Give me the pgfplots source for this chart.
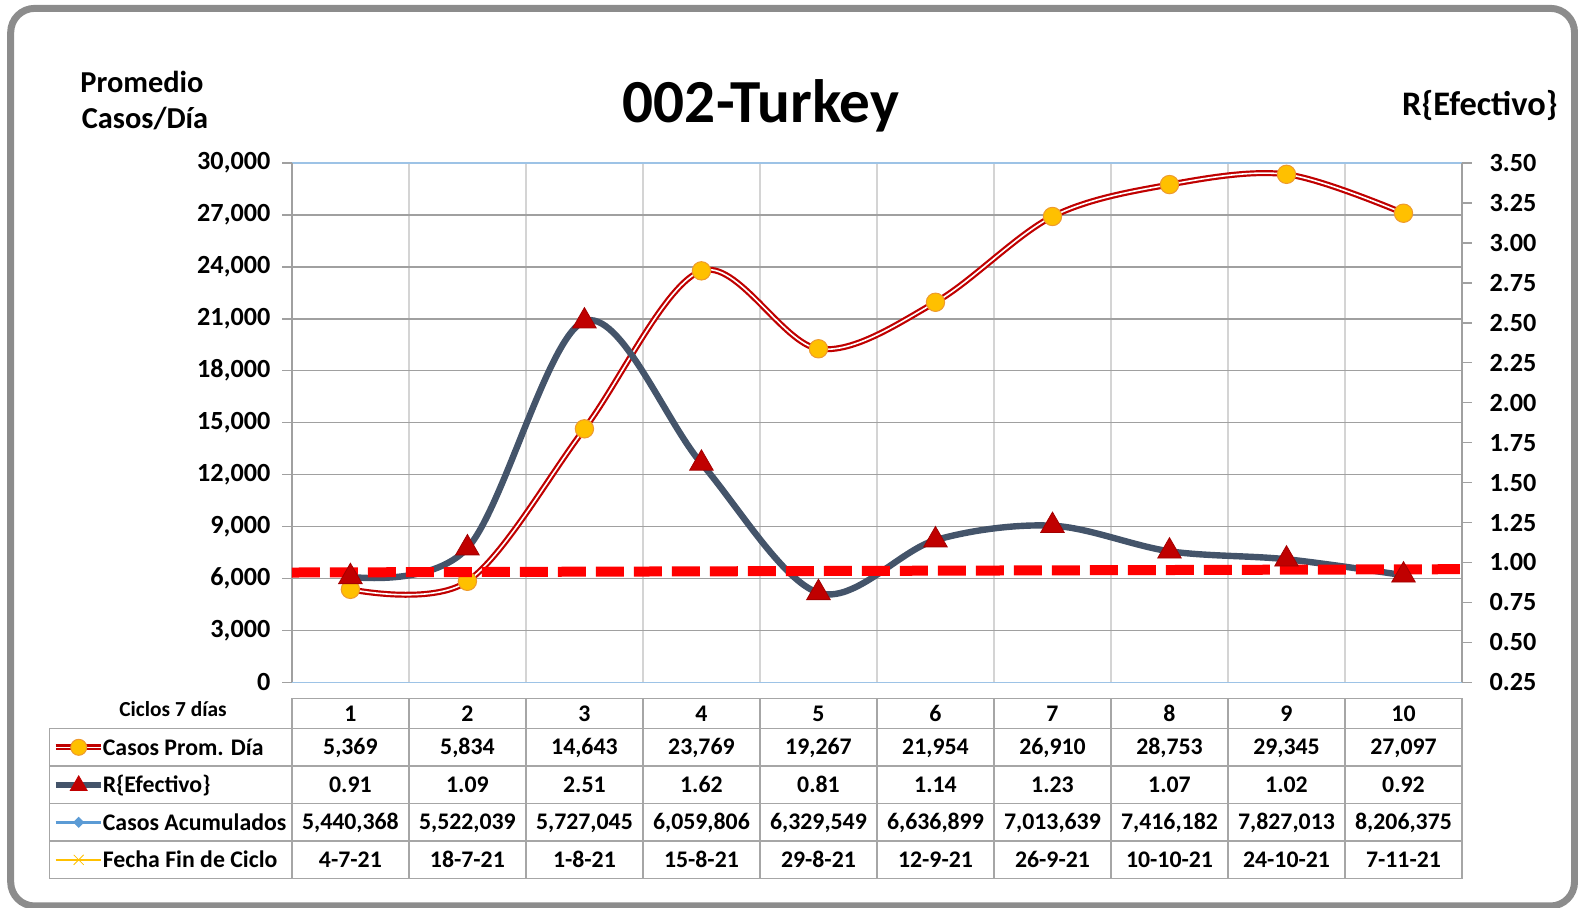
\documentclass[border=0pt]{standalone}
\usepackage{pgfplots}
\pgfplotsset{compat=1.18}
\usepackage{pgfplotstable}
\usepackage{fontspec}
\setmainfont{Carlito}
\definecolor{cdark}{HTML}{C00000}
\definecolor{corange}{HTML}{FFC000}
\definecolor{corangeedge}{HTML}{EE9A2E}
\definecolor{slate}{HTML}{44546A}
\definecolor{lblue}{HTML}{9DC3E6}
\definecolor{accblue}{HTML}{5B9BD5}
\definecolor{gridh}{HTML}{A0A0A0}
\definecolor{gridv}{HTML}{D4D4D4}
\definecolor{tabline}{HTML}{A6A6A6}
\definecolor{framec}{HTML}{8C8C8C}
\newcommand{\fs}[1]{\fontsize{#1}{#1}\selectfont}

\pgfplotstableread{
x casos r
1 5369 0.91
2 5834 1.09
3 14643 2.51
4 23769 1.62
5 19267 0.81
6 21954 1.14
7 26910 1.23
8 28753 1.07
9 29345 1.02
10 27097 0.92
}\datatable
\pgfplotstableread{
x r
0.5 0.937
10.55 0.958
}\refline

\begin{document}
\begin{tikzpicture}
\useasboundingbox (0,0) rectangle (789pt,454pt);
\begin{scope}[yshift=454pt,x=0.5pt,y=-0.5pt]
\draw[framec,line width=3.5pt,rounded corners=12pt] (10.7,8.4) rectangle (1574.5,906);
\node[anchor=base,inner sep=0,font=\bfseries\fs{30.6}] at (761,122.5) {002-Turkey};
\node[anchor=base,inner sep=0,font=\bfseries\fs{15.2}] at (142,92.3) {Promedio};
\node[anchor=base,inner sep=0,font=\bfseries\fs{15.2}] at (145,129) {Casos/Día};
\node[anchor=base east,inner sep=0,font=\bfseries\fs{17.2}] at (1558,115.5) {R\{Efectivo\}};
\node[anchor=base,inner sep=0,font=\bfseries\fs{10.7}] at (173,717) {Ciclos 7 días};
% table grid
\foreach \k in {0,...,10} {
  \pgfmathsetmacro\xx{291.9+\k*117.01}
  \draw[tabline,line width=0.75pt] (\xx,698.4) -- (\xx,878.6);
}
\draw[tabline,line width=0.75pt] (291.9,698.4) -- (1462,698.4);
\foreach \yy in {728.6,766.1,803.6,841.1,878.6}
  \draw[tabline,line width=0.75pt] (49.3,\yy) -- (1462,\yy);
\draw[tabline,line width=0.75pt] (49.3,728.6) -- (49.3,878.6);
% table texts
\begin{scope}[every node/.style={anchor=base,inner sep=0,font=\bfseries\fs{11.9}}]
\foreach \v [count=\i] in {1,2,3,4,5,6,7,8,9,10}
  \node at ({291.9+(\i-0.5)*117.01},721.5) {\v};
\foreach \v [count=\i] in {{5,369},{5,834},{14,643},{23,769},{19,267},{21,954},{26,910},{28,753},{29,345},{27,097}}
  \node at ({291.9+(\i-0.5)*117.01},754.8) {\v};
\foreach \v [count=\i] in {0.91,1.09,2.51,1.62,0.81,1.14,1.23,1.07,1.02,0.92}
  \node at ({291.9+(\i-0.5)*117.01},792.2) {\v};
\foreach \v [count=\i] in {{5,440,368},{5,522,039},{5,727,045},{6,059,806},{6,329,549},{6,636,899},{7,013,639},{7,416,182},{7,827,013},{8,206,375}}
  \node at ({291.9+(\i-0.5)*117.01},829.8) {\v};
\foreach \v [count=\i] in {4-7-21,18-7-21,1-8-21,15-8-21,29-8-21,12-9-21,26-9-21,10-10-21,24-10-21,7-11-21}
  \node at ({291.9+(\i-0.5)*117.01},867.3) {\v};
\end{scope}
\end{scope}

\begin{axis}[
  at={(145.95pt,112.85pt)}, anchor=south west,
  scale only axis, width=585.05pt, height=259.65pt,
  xmin=0.5, xmax=10.5, ymin=0, ymax=30000,
  xtick={1.5,2.5,...,9.5}, xticklabels={},
  ytick distance=3000, scaled y ticks=false,
  axis line style={draw=none},
  xmajorgrids, ymajorgrids,
  x grid style={gridv,line width=0.75pt},
  y grid style={gridh,line width=0.75pt},
  major x tick style={draw=none},
  ytick style={gridh,line width=0.75pt},
  tick align=outside, major tick length=4.75pt,
  ytick pos=left,
  yticklabel style={font=\bfseries\fs{13.1},xshift=-2.5pt,/pgf/number format/1000 sep={,}},
  /pgf/number format/assume math mode=true,
  clip=false,
  legend style={at={(rel axis cs:-0.20459,-0.0891)}, anchor=north west,
    draw=none, fill=none, inner sep=0pt, outer sep=0pt,
    row sep=0pt, column sep=-0.6pt,
    nodes={inner sep=0pt, outer sep=0pt, font=\bfseries\fs{11.9},
      text height=13.375pt, text depth=5.375pt}},
  legend cell align=left,
]
\addlegendimage{legend image code/.code={
  \draw[cdark,line width=3pt] (0pt,0pt)--(22.8pt,0pt);
  \draw[white,line width=0.8pt] (0pt,0pt)--(22.8pt,0pt);
  \draw[fill=corange,draw=corangeedge,line width=0.5pt] (11.6pt,0pt) circle (4pt);}}
\addlegendentry{Casos Prom. Día}
\addlegendimage{legend image code/.code={
  \draw[slate,line width=3pt] (0pt,0pt)--(22.8pt,0pt);
  \fill[cdark] (11.6pt,4.5pt) -- (7.4pt,-2.8pt) -- (15.8pt,-2.8pt) -- cycle;}}
\addlegendentry{R\{Efectivo\}}
\addlegendimage{legend image code/.code={
  \draw[accblue,line width=1.2pt] (0pt,0pt)--(22.8pt,0pt);
  \fill[accblue] (11.6pt,2.5pt) -- (14.1pt,0pt) -- (11.6pt,-2.5pt) -- (9.1pt,0pt) -- cycle;}}
\addlegendentry{Casos Acumulados}
\addlegendimage{legend image code/.code={
  \draw[corange,line width=1.2pt] (0pt,0pt)--(22.8pt,0pt);
  \draw[corange,line width=0.4pt] (9.1pt,-2.5pt)--(14.1pt,2.5pt) (9.1pt,2.5pt)--(14.1pt,-2.5pt);}}
\addlegendentry{Fecha Fin de Ciclo}
\draw[lblue,line width=0.75pt] (rel axis cs:0,0) -- (rel axis cs:1,0);
\draw[lblue,line width=0.75pt] (rel axis cs:0,1) -- (rel axis cs:1,1);
\draw[gridh,line width=0.75pt] (rel axis cs:0,0) -- (rel axis cs:0,1);
\draw[gridh,line width=0.75pt] (rel axis cs:1,0) -- (rel axis cs:1,1);
\addplot[forget plot, cdark, line width=3pt, smooth, tension=0.55, no marks] table[x=x,y=casos]{\datatable};
\addplot[forget plot, white, line width=0.8pt, smooth, tension=0.55, no marks] table[x=x,y=casos]{\datatable};
\addplot[forget plot, only marks, mark=*, mark size=4.6pt, mark options={fill=corange,draw=corangeedge,line width=0.5pt}] table[x=x,y=casos]{\datatable};
\end{axis}

\begin{axis}[
  at={(145.95pt,112.85pt)}, anchor=south west,
  scale only axis, width=585.05pt, height=259.65pt,
  xmin=0.5, xmax=10.5, ymin=0.25, ymax=3.5,
  axis x line=none, axis y line*=right,
  y axis line style={-,gridh,line width=0.75pt},
  ytick distance=0.25,
  ytick style={gridh,line width=0.75pt},
  tick align=outside, major tick length=4.75pt,
  yticklabel style={font=\bfseries\fs{13.1},xshift=5.5pt,/pgf/number format/fixed,/pgf/number format/precision=2,/pgf/number format/fixed zerofill},
  /pgf/number format/assume math mode=true,
  clip=false,
]
\addplot[slate, line width=3.2pt, smooth, tension=0.55, no marks] table[x=x,y=r]{\datatable};
\addplot[only marks, mark=triangle*, mark size=6.8pt, mark options={fill=cdark,draw=cdark!85!black,line width=0.4pt}] table[x=x,y=r]{\datatable};
\addplot[red, line width=5pt, dash pattern=on 14pt off 5pt, no marks] table[x=x,y=r]{\refline};
\end{axis}
\end{tikzpicture}
\end{document}
